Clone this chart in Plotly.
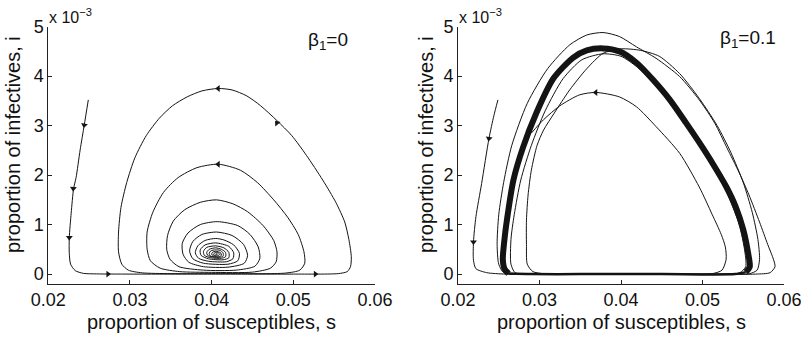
import plotly.graph_objects as go

# ---------------- Left panel (beta1 = 0): one trajectory spiralling to the equilibrium
left_s = [0.0249, 0.0244, 0.0239, 0.0234, 0.0231, 0.0228, 0.02257, 0.02257, 0.02273, 0.0233, 0.0243, 0.0259, 0.030, 0.040, 0.050, 0.0555,
          0.0566, 0.0570, 0.0571, 0.0568, 0.0563, 0.0552, 0.0536, 0.0516, 0.0498, 0.0480, 0.0460, 0.0443, 0.0425, 0.0408,
          0.0388, 0.0370, 0.0352, 0.0336, 0.0320, 0.0306, 0.0296, 0.0289, 0.0286, 0.0286, 0.0290, 0.0298, 0.0315, 0.035, 0.042, 0.0490,
          0.0508, 0.0514, 0.0513, 0.0506, 0.0493, 0.0476, 0.0456, 0.0435, 0.0408, 0.0382, 0.0359, 0.0341, 0.0328, 0.0321, 0.0321, 0.0325, 0.0337, 0.0361, 0.040, 0.0450,
          0.0472, 0.0479, 0.0480, 0.0476, 0.0463, 0.0444, 0.0426, 0.0406, 0.0386, 0.0367, 0.0353, 0.0346, 0.0345, 0.0349, 0.0360, 0.0390, 0.0430,
          0.0453, 0.0459, 0.0457, 0.0447, 0.0432, 0.0407, 0.0386, 0.0371, 0.0364, 0.0365, 0.0372, 0.0390, 0.0420,
          0.0440, 0.0444, 0.0439, 0.0425, 0.0406, 0.0388, 0.0377, 0.0373, 0.0377, 0.0390, 0.0420,
          0.0432, 0.0434, 0.0427, 0.0415, 0.0405, 0.0392, 0.0383, 0.0380, 0.0384, 0.0396, 0.0418,
          0.0426, 0.0427, 0.0421, 0.0405, 0.0392, 0.0386, 0.0387, 0.0396, 0.0414,
          0.0421, 0.0421, 0.0415, 0.0405, 0.0394, 0.0390, 0.0391, 0.0399, 0.0412,
          0.0417, 0.0417, 0.0412, 0.0405, 0.0397, 0.0394, 0.0395, 0.0401, 0.0410,
          0.0414, 0.0414, 0.0410, 0.0405, 0.0399, 0.0397, 0.0398, 0.0402, 0.0409,
          0.0412, 0.0411, 0.0405, 0.0401, 0.0400, 0.0402, 0.0407, 0.0410, 0.0408, 0.0404, 0.0402, 0.0404, 0.0407, 0.0406, 0.0405]
left_i = [3.52, 3.01, 2.51, 1.95, 1.73, 1.23, 0.74, 0.42, 0.20, 0.07, 0.015, 0.004, 0.0, 0.0, 0.0, 0.01,
          0.05, 0.15, 0.35, 0.70, 1.05, 1.45, 1.90, 2.40, 2.80, 3.10, 3.40, 3.60, 3.72, 3.75,
          3.70, 3.58, 3.40, 3.15, 2.80, 2.35, 1.85, 1.35, 0.85, 0.45, 0.20, 0.08, 0.025, 0.01, 0.01, 0.02,
          0.08, 0.22, 0.45, 0.80, 1.15, 1.50, 1.85, 2.10, 2.22, 2.15, 1.95, 1.65, 1.25, 0.85, 0.50, 0.27, 0.12, 0.05, 0.035, 0.04,
          0.12, 0.25, 0.45, 0.68, 0.98, 1.26, 1.42, 1.50, 1.45, 1.30, 1.07, 0.78, 0.50, 0.30, 0.15, 0.08, 0.08,
          0.16, 0.32, 0.55, 0.80, 0.98, 1.06, 1.00, 0.83, 0.62, 0.40, 0.24, 0.15, 0.14,
          0.22, 0.38, 0.60, 0.78, 0.85, 0.80, 0.66, 0.47, 0.31, 0.22, 0.20,
          0.27, 0.42, 0.59, 0.69, 0.72, 0.68, 0.57, 0.43, 0.32, 0.26, 0.25,
          0.31, 0.43, 0.56, 0.63, 0.59, 0.49, 0.38, 0.31, 0.29,
          0.33, 0.44, 0.53, 0.57, 0.54, 0.46, 0.38, 0.33, 0.32,
          0.35, 0.44, 0.50, 0.53, 0.50, 0.44, 0.38, 0.35, 0.34,
          0.36, 0.43, 0.48, 0.49, 0.47, 0.42, 0.37, 0.35, 0.35,
          0.38, 0.43, 0.46, 0.44, 0.40, 0.37, 0.37, 0.40, 0.43, 0.43, 0.40, 0.38, 0.40, 0.41, 0.40]

left_arrow_s = [0.0244, 0.02306, 0.02257, 0.0273, 0.0527, 0.0480, 0.0408, 0.0408]
left_arrow_i = [3.01, 1.73, 0.74, 0.0, 0.0, 3.05, 3.75, 2.22]
left_arrow_dir = [190, 185, 180, 90, 90, -40, -90, -90]

# ---------------- Right panel (beta1 = 0.1)
# initial transient + first (smaller) loop
r_init_s = [0.0249, 0.0244, 0.0238, 0.0229, 0.0222, 0.0219, 0.0219, 0.0222, 0.0235, 0.0259, 0.035, 0.045, 0.0512,
            0.0524, 0.0529, 0.0528, 0.0523, 0.0512, 0.0496, 0.0472, 0.0443, 0.0419, 0.0398, 0.0369, 0.0349, 0.0325, 0.0305, 0.0290]
r_init_i = [3.52, 3.20, 2.74, 1.83, 1.16, 0.65, 0.28, 0.11, 0.03, 0.0, 0.0, 0.0, 0.01,
            0.08, 0.30, 0.55, 0.80, 1.20, 1.76, 2.44, 2.98, 3.38, 3.58, 3.67, 3.62, 3.40, 3.12, 2.85]

# attracting cycle (thick band) - the upper arc
r_band_s = [0.0262, 0.0257, 0.0255, 0.0257, 0.0260, 0.0268, 0.0280, 0.0296, 0.0317, 0.0341, 0.0358, 0.0378, 0.0398,
            0.0419, 0.0439, 0.0460, 0.0480, 0.0496, 0.0513, 0.0529, 0.0541, 0.0550, 0.0556, 0.0558, 0.0553]
r_band_i = [0.01, 0.11, 0.30, 0.70, 1.09, 1.90, 2.57, 3.25, 3.95, 4.37, 4.52, 4.56, 4.50,
            4.27, 3.93, 3.52, 3.05, 2.66, 2.22, 1.77, 1.35, 0.90, 0.42, 0.15, 0.04]
# its lower branch along i ~ 0
r_base_s = [0.0262, 0.0290, 0.0350, 0.0450, 0.0540, 0.0553]
r_base_i = [0.01, 0.0, 0.0, 0.0, 0.0, 0.04]

# thin cycle just inside the band
r_thin_s = [0.0285, 0.0270, 0.0265, 0.0265, 0.0269, 0.0277, 0.0290, 0.0307, 0.0329, 0.0352, 0.0378, 0.0400, 0.0420,
            0.0441, 0.0462, 0.0482, 0.0500, 0.0527, 0.0545, 0.0552, 0.0553, 0.0546, 0.0530, 0.0400, 0.0285]
r_thin_i = [0.0, 0.03, 0.20, 0.70, 1.20, 1.90, 2.60, 3.30, 3.95, 4.33, 4.45, 4.40, 4.18,
            3.85, 3.43, 2.96, 2.52, 1.75, 1.00, 0.45, 0.15, 0.03, 0.0, 0.0, 0.0]

# outermost cycle
r_outer_s = [0.0275, 0.0256, 0.0250, 0.0248, 0.0250, 0.0256, 0.0266, 0.0285, 0.0310, 0.0337, 0.0358, 0.0378, 0.0398,
             0.0419, 0.0443, 0.0472, 0.0496, 0.0515, 0.0530, 0.0545, 0.0557, 0.0570, 0.0580, 0.0587, 0.0589, 0.0583, 0.0565, 0.0450, 0.0320]
r_outer_i = [0.0, 0.03, 0.20, 0.60, 1.20, 1.85, 2.60, 3.45, 4.15, 4.63, 4.83, 4.88, 4.80,
             4.59, 4.36, 3.99, 3.52, 3.05, 2.55, 2.05, 1.60, 1.05, 0.60, 0.30, 0.15, 0.03, 0.0, 0.0, 0.0]

# cycle crossing the interior (inner left side) and passing right of the band
r_cross_s = [0.0310, 0.0292, 0.0285, 0.0284, 0.0284, 0.0286, 0.0290, 0.0297, 0.0305, 0.0318, 0.0337, 0.0358, 0.0378, 0.0400,
             0.0424, 0.0447, 0.0472, 0.0496, 0.0518, 0.0535, 0.0550, 0.0561, 0.0568, 0.0570, 0.0567, 0.0558, 0.0540, 0.0400]
r_cross_i = [0.0, 0.05, 0.20, 0.60, 1.09, 1.60, 2.10, 2.60, 2.91, 3.25, 3.72, 4.15, 4.46, 4.55,
             4.52, 4.40, 4.05, 3.55, 3.00, 2.45, 1.85, 1.25, 0.70, 0.30, 0.08, 0.01, 0.0, 0.0]

right_arrow_s = [0.0238, 0.0219, 0.0369]
right_arrow_i = [2.74, 0.65, 3.67]
right_arrow_dir = [190, 180, -90]

x_ticks = [0.02, 0.03, 0.04, 0.05, 0.06]
x_ticktext = ["0.02", "0.03", "0.04", "0.05", "0.06"]
y_ticks = [0, 1, 2, 3, 4, 5]
y_ticktext = ["0", "1", "2", "3", "4", "5"]
x_title = "proportion of susceptibles, s"
y_title = "proportion of infectives, i"
scale_label = "x 10<sup>−3</sup>"
panel_labels = ["β<sub>1</sub>=0", "β<sub>1</sub>=0.1"]

FONT = "Liberation Sans, Arial, Helvetica, sans-serif"
LC = "#141414"
TC = "#111"

def sc(v):
    return [x * 1e-3 for x in v]

fig = go.Figure()

def curve(xs, ys, ax, width=1.0):
    fig.add_trace(go.Scatter(x=xs, y=sc(ys), mode="lines", xaxis="x" + ax, yaxis="y" + ax,
                             line=dict(color=LC, width=width, shape="spline", smoothing=0.7),
                             hoverinfo="skip", showlegend=False))

def arrows(xs, ys, dirs, ax):
    fig.add_trace(go.Scatter(x=xs, y=sc(ys), mode="markers", xaxis="x" + ax, yaxis="y" + ax,
                             marker=dict(symbol="triangle-up", size=6, color=LC, angle=dirs,
                                         line=dict(width=0)),
                             hoverinfo="skip", showlegend=False))

curve(left_s, left_i, "")
arrows(left_arrow_s, left_arrow_i, left_arrow_dir, "")

curve(r_band_s, r_band_i, "2", width=6)
curve(r_base_s, r_base_i, "2", width=2.5)
curve(r_thin_s, r_thin_i, "2")
curve(r_outer_s, r_outer_i, "2")
curve(r_cross_s, r_cross_i, "2")
curve(r_init_s, r_init_i, "2")
arrows(right_arrow_s, right_arrow_i, right_arrow_dir, "2")

W, H = 801, 337
yd = [(337 - 284) / H, (337 - 26.6) / H]
xaxis_common = dict(range=[0.02, 0.06], tickvals=x_ticks, ticktext=x_ticktext, showgrid=False,
                    zeroline=False, showline=True, linecolor="#222", linewidth=1, ticks="inside",
                    ticklen=4, tickcolor="#222", tickfont=dict(family=FONT, size=18, color=TC),
                    automargin=False, ticklabelstandoff=-1, ticklabeloverflow="allow")
yaxis_common = dict(range=[-0.0002, 0.005], tickvals=sc(y_ticks), ticktext=y_ticktext, showgrid=False,
                    zeroline=False, showline=True, linecolor="#222", linewidth=1, ticks="inside",
                    ticklen=4, tickcolor="#222", tickfont=dict(family=FONT, size=18, color=TC),
                    automargin=False, ticklabeloverflow="allow")

def pa(text, x, y, size, **kw):
    return dict(text=text, x=x / W, y=(H - y) / H, xref="paper", yref="paper", showarrow=False,
                font=dict(family=FONT, size=size, color=TC), **kw)

fig.update_layout(
    width=W, height=H, margin=dict(l=0, r=0, t=0, b=0, autoexpand=False),
    paper_bgcolor="white", plot_bgcolor="white",
    xaxis=dict(domain=[48.3 / W, 375 / W], anchor="y", **xaxis_common),
    yaxis=dict(domain=yd, anchor="x", **yaxis_common),
    xaxis2=dict(domain=[458 / W, 784 / W], anchor="y2", **xaxis_common),
    yaxis2=dict(domain=yd, anchor="x2", **yaxis_common),
    annotations=[
        pa(scale_label, 47, 4, 16, xanchor="left", yanchor="top"),
        pa(scale_label, 457, 4, 16, xanchor="left", yanchor="top"),
        pa(panel_labels[0], 306, 27, 19, xanchor="left", yanchor="top"),
        pa(panel_labels[1], 718, 25, 19, xanchor="left", yanchor="top"),
        pa(x_title, 211.5, 322, 20, xanchor="center", yanchor="middle"),
        pa(x_title, 621.5, 322, 20, xanchor="center", yanchor="middle"),
        pa(y_title, 13, 145, 20, xanchor="center", yanchor="middle", textangle=-90),
        pa(y_title, 426, 145, 20, xanchor="center", yanchor="middle", textangle=-90),
    ],
)

fig.write_html("out.html", config={"displayModeBar": False},
               post_script="document.body.style.margin='0px';document.body.style.overflow='hidden';")
